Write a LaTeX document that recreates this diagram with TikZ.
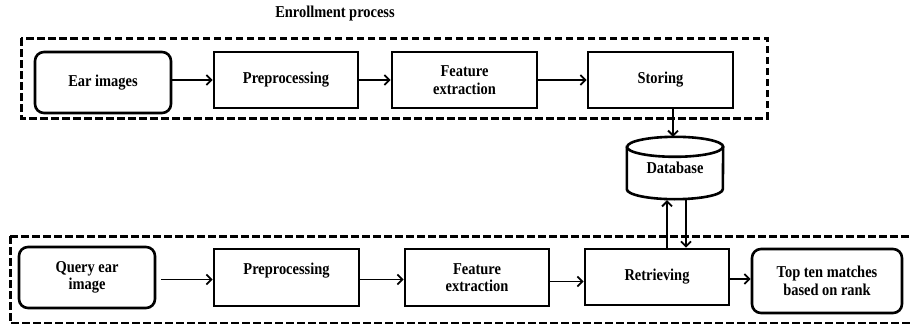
\documentclass[tikz,border=0pt]{standalone}
\usepackage{fontspec}
\setmainfont{Liberation Serif}[FakeStretch=0.87]
\usetikzlibrary{arrows.meta}
\begin{document}
\begin{tikzpicture}[x=1pt,y=-1pt,
  lbl/.style={font=\bfseries\fontsize{16.6}{17.5}\selectfont, align=center},
  box/.style={lbl, draw, line width=2.6pt, inner sep=0pt},
  rbox/.style={box, rounded corners=9pt},
  conn/.style={line width=1.8pt, -{Straight Barb[length=5pt,width=10pt,line width=1.8pt]}},
  frame/.style={line width=3pt, dash pattern=on 7.5pt off 3.5pt}]
\useasboundingbox (0,0) rectangle (911,324);
% frames
\draw[frame] (21,38) rectangle (767,118);
\draw[frame] (10,236) -- (925,236) (10,236) -- (10,323) -- (925,323);
\node[lbl] (title) at (335,14) {Enrollment process};
% top row
\node[rbox, minimum width=136pt, minimum height=61pt] (ear) at (103,82.5) {Ear images};
\node[box, minimum width=144pt, minimum height=56pt] (pre1) at (286,80) {Preprocessing};
\node[box, minimum width=145pt, minimum height=56pt] (fe1) at (464.5,80) {Feature\\extraction};
\node[box, minimum width=145pt, minimum height=56pt] (sto) at (660.5,80) {Storing};
% database
\node[lbl, minimum width=96pt, minimum height=62pt, inner sep=0pt] (db) at (675,168) {\raisebox{-4pt}{Database}};
\draw[line width=2.6pt] ([yshift=-10pt]db.north west) -- ([yshift=10pt]db.south west)
  arc[start angle=180,end angle=360,x radius=48pt,y radius=10pt]
  -- ([yshift=-10pt]db.north east)
  arc[start angle=0,end angle=180,x radius=48pt,y radius=10pt] -- cycle;
\draw[line width=2.6pt] ([yshift=-10pt]db.north west) arc[start angle=180,end angle=360,x radius=48pt,y radius=10pt];
% bottom row
\node[rbox, minimum width=136pt, minimum height=61pt] (qe) at (87,277.5) {Query ear\\image};
\node[box, minimum width=145pt, minimum height=57pt, text depth=18pt] (pre2) at (286.5,277.5) {Preprocessing};
\node[box, minimum width=144pt, minimum height=57pt] (fe2) at (477,277.5) {Feature\\extraction};
\node[box, minimum width=144pt, minimum height=56pt] (ret) at (657,277) {Retrieving};
\node[rbox, minimum width=150pt, minimum height=64pt] (top) at (827,281) {Top ten matches\\based on rank};
% connectors
\draw[conn] (ear.east |- pre1) -- (pre1);
\draw[conn] (pre1) -- (fe1);
\draw[conn] (fe1) -- (sto);
\draw[conn] ([xshift=12.5pt]sto.south) -- ([xshift=-2pt]db.north);
\draw[conn] ([xshift=10pt]ret.north) -- ([xshift=-8pt,yshift=-1pt]db.south);
\draw[conn] ([xshift=11pt,yshift=-1pt]db.south) -- ([xshift=29pt]ret.north);
\draw[conn] ([xshift=5pt,yshift=-2pt]qe.east) -- ([yshift=-2pt]qe.east -| pre2.west);
\draw[conn] ([yshift=-2pt]pre2.east) -- ([yshift=-2pt]pre2.east -| fe2.west);
\draw[conn] ([yshift=-4pt]fe2.east) -- ([yshift=-4pt]fe2.east -| ret.west);
\draw[conn] ([yshift=-2pt]ret.east) -- ([yshift=-2pt]ret.east -| top.west);
\end{tikzpicture}
\end{document}
